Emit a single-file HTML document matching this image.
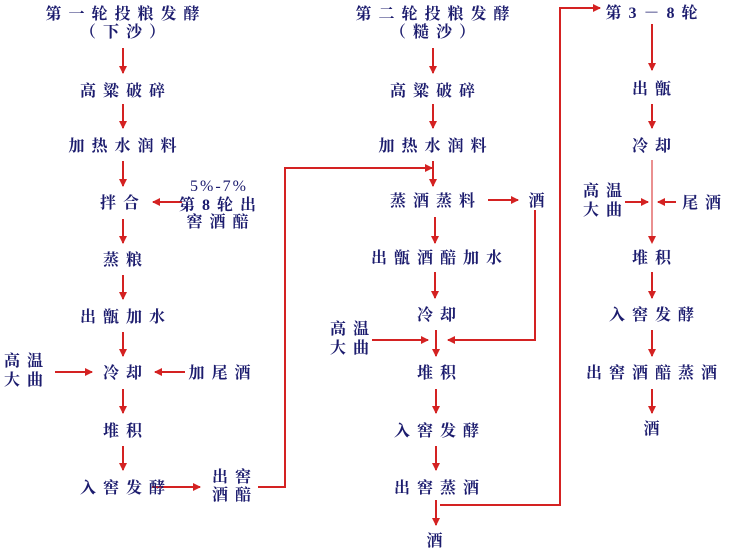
<!DOCTYPE html>
<html><head><meta charset="utf-8"><style>
html,body{margin:0;padding:0;background:#fff}
svg text{font-family:"Liberation Serif","Noto Serif CJK SC",serif;font-size:16px;fill:#1c1c6e;font-weight:bold;letter-spacing:7px}
</style></head><body>
<svg width="737" height="550" viewBox="0 0 737 550" xmlns="http://www.w3.org/2000/svg">
<defs><marker id="a" markerWidth="8" markerHeight="8" refX="7" refY="4" orient="auto" markerUnits="userSpaceOnUse"><path d="M0,0 L8,4 L0,8 z" fill="#d42222"/></marker></defs>
<g stroke="#d42222" stroke-width="2" fill="none" marker-end="url(#a)">
<line x1="123" y1="48" x2="123" y2="73"/>
<line x1="123" y1="104" x2="123" y2="128"/>
<line x1="123" y1="161" x2="123" y2="186"/>
<line x1="123" y1="219" x2="123" y2="243"/>
<line x1="123" y1="275" x2="123" y2="299"/>
<line x1="123" y1="332" x2="123" y2="356"/>
<line x1="123" y1="389" x2="123" y2="413"/>
<line x1="123" y1="446" x2="123" y2="470"/>
<line x1="182" y1="202" x2="153" y2="202"/>
<line x1="55" y1="372" x2="92" y2="372"/>
<line x1="185" y1="372" x2="155" y2="372"/>
<line x1="152" y1="487" x2="200" y2="487"/>
<polyline points="258,487 285,487 285,168 432,168"/>
<line x1="433" y1="48" x2="433" y2="73"/>
<line x1="433" y1="104" x2="433" y2="128"/>
<line x1="433" y1="161" x2="433" y2="186"/>
<line x1="488" y1="200" x2="518" y2="200"/>
<line x1="435" y1="217" x2="435" y2="243"/>
<line x1="435" y1="272" x2="435" y2="298"/>
<line x1="372" y1="340" x2="428" y2="340"/>
<polyline points="535,210 535,340 448,340"/>
<line x1="436" y1="330" x2="436" y2="356"/>
<line x1="436" y1="389" x2="436" y2="413"/>
<line x1="436" y1="446" x2="436" y2="470"/>
<line x1="436" y1="500" x2="436" y2="525"/>
<polyline points="440,505 560,505 560,8 600,8"/>
<line x1="652" y1="24" x2="652" y2="70"/>
<line x1="652" y1="104" x2="652" y2="128"/>
<line x1="652" y1="160" x2="652" y2="243" stroke-width="1"/>
<line x1="625" y1="202" x2="648" y2="202"/>
<line x1="676" y1="202" x2="658" y2="202"/>
<line x1="652" y1="272" x2="652" y2="298"/>
<line x1="652" y1="330" x2="652" y2="356"/>
<line x1="652" y1="389" x2="652" y2="413"/>
</g>
<g text-anchor="middle">
<text x="126" y="19">第一轮投粮发酵</text>
<text x="126" y="37">（下沙）</text>
<text x="126" y="96">高粱破碎</text>
<text x="126" y="151">加热水润料</text>
<text x="123" y="208">拌合</text>
<text x="126" y="265">蒸粮</text>
<text x="126" y="322">出甑加水</text>
<text x="126" y="378">冷却</text>
<text x="126" y="436">堆积</text>
<text x="126" y="493">入窖发酵</text>
<text x="219" y="191" style="font-weight:normal;letter-spacing:2px">5%-7%</text>
<text x="221" y="210">第8轮出</text>
<text x="221" y="227">窖酒醅</text>
<text x="27" y="366">高温</text>
<text x="27" y="385">大曲</text>
<text x="223" y="378">加尾酒</text>
<text x="235" y="482">出窖</text>
<text x="235" y="500">酒醅</text>
<text x="436" y="19">第二轮投粮发酵</text>
<text x="436" y="37">（糙沙）</text>
<text x="436" y="96">高粱破碎</text>
<text x="436" y="151">加热水润料</text>
<text x="436" y="206">蒸酒蒸料</text>
<text x="540" y="206">酒</text>
<text x="440" y="263">出甑酒醅加水</text>
<text x="440" y="320">冷却</text>
<text x="353" y="334">高温</text>
<text x="353" y="353">大曲</text>
<text x="440" y="378">堆积</text>
<text x="440" y="436">入窖发酵</text>
<text x="440" y="493">出窖蒸酒</text>
<text x="438" y="546">酒</text>
<text x="655" y="18">第3－8轮</text>
<text x="655" y="94">出甑</text>
<text x="655" y="151">冷却</text>
<text x="606" y="196">高温</text>
<text x="606" y="215">大曲</text>
<text x="705" y="208">尾酒</text>
<text x="655" y="263">堆积</text>
<text x="655" y="320">入窖发酵</text>
<text x="655" y="378">出窖酒醅蒸酒</text>
<text x="655" y="434">酒</text>
</g>
</svg>
</body></html>
